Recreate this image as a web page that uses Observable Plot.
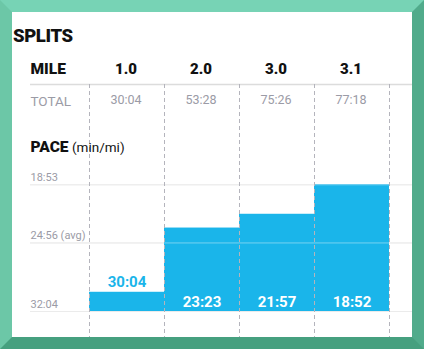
<!DOCTYPE html>
<html>
<head>
<meta charset="utf-8">
<script src="https://cdn.jsdelivr.net/npm/d3@7"></script>
<script src="https://cdn.jsdelivr.net/npm/@observablehq/plot@0.6"></script>
<style>
  html, body { margin: 0; padding: 0; background: #fff; }
  #frame {
    position: relative; width: 424px; height: 349px; box-sizing: border-box;
    border-style: solid; border-width: 12px;
    border-top-color: #77d3b5; border-left-color: #6cc7a7;
    border-right-color: #51ab8b; border-bottom-color: #46a07f;
    background: #fff; overflow: hidden;
  }
  #title {
    position: absolute; left: 1px; top: 15px; margin: 0;
    font: 900 18.5px/19px Roboto, sans-serif; letter-spacing: -0.4px;
    color: #111;
  }
  #chart { position: absolute; left: 0; top: 38px; }
</style>
</head>
<body>
<div id="frame">
  <div id="title">SPLITS</div>
  <div id="chart"></div>
</div>
<script>
const miles = ["1.0", "2.0", "3.0", "3.1"];
const totals = ["30:04", "53:28", "75:26", "77:18"];
const paces = ["30:04", "23:23", "21:57", "18:52"];
const tickValues = ["18:53", "24:56", "32:04"];
const tickLabels = ["18:53", "24:56 (avg)", "32:04"];

const sec = s => { const [m, x] = s.split(":").map(Number); return m * 60 + x; };
const rows = miles.map((m, i) => ({i, mile: m, total: totals[i], pace: paces[i], sec: sec(paces[i])}));
const ticks = tickValues.map((t, i) => ({value: sec(t), label: tickLabels[i]}));
const baseVal = sec("32:04");
const topVal = sec("18:53");

const W = 400, H = 287, mL = 77, mR = 23, mT = 134.3, mB = 26;
const heavy = "Roboto, sans-serif";
const blue = "#1ab5ea";
const gray = "#9b9ba6";
const inside = d => (baseVal - d.sec) > 200;

const chart = Plot.plot({
  width: W, height: H,
  marginLeft: mL, marginRight: mR, marginTop: mT, marginBottom: mB,
  style: {fontFamily: "Roboto, sans-serif", fontSize: "11px", background: "transparent", overflow: "visible"},
  x: {domain: [0, miles.length], axis: null},
  y: {domain: [baseVal, topVal], axis: null},
  marks: [
    Plot.ruleY([topVal], {dy: 34 - mT, insetLeft: -59, insetRight: -23, stroke: "#dcdcdc", strokeWidth: 1.5}),
    Plot.ruleY(ticks, {y: "value", insetLeft: -59, insetRight: -23, stroke: "#dedede", strokeWidth: 1}),
    Plot.rectY(rows, {x1: d => d.i, x2: d => d.i + 1, y1: baseVal, y2: "sec", fill: blue}),
    Plot.ruleY(ticks, {y: "value", insetLeft: -59, insetRight: -23, stroke: "#ffffff", strokeOpacity: 0.4, strokeWidth: 1}),
    Plot.ruleX(d3.range(miles.length + 1), {insetTop: -(mT - 34), insetBottom: -mB, stroke: "#b4b4bc", strokeDasharray: "4,3", strokeWidth: 1}),
    Plot.text(ticks, {y: "value", text: "label", frameAnchor: "left", textAnchor: "start", lineAnchor: "bottom", dx: -59, dy: -4, fill: gray, fontSize: 11}),
    Plot.text(["MILE"], {frameAnchor: "top-left", textAnchor: "start", lineAnchor: "bottom", dx: -59, dy: 23.8 - mT, fontFamily: heavy, fontWeight: 900, fontSize: 15.5, fill: "#111"}),
    Plot.text(rows, {x: d => d.i + 0.5, text: "mile", frameAnchor: "top", lineAnchor: "bottom", dy: 23.8 - mT, dx: -1, fontFamily: heavy, fontWeight: 900, fontSize: 15, fill: "#111"}),
    Plot.text(["TOTAL"], {frameAnchor: "top-left", textAnchor: "start", lineAnchor: "bottom", dx: -59, dy: 105 - 50 - mT, fontSize: 13.5, fill: gray}),
    Plot.text(rows, {x: d => d.i + 0.5, text: "total", frameAnchor: "top", lineAnchor: "bottom", dy: 103.8 - 50 - mT, dx: -1, fontSize: 12.5, fill: gray}),
    Plot.text(["PACE"], {frameAnchor: "top-left", textAnchor: "start", lineAnchor: "bottom", dx: -59, dy: 151.8 - 50 - mT, fontFamily: heavy, fontWeight: 900, fontSize: 15.5, fill: "#111"}),
    Plot.text(["(min/mi)"], {frameAnchor: "top-left", textAnchor: "start", lineAnchor: "bottom", dx: -17.5, dy: 151.8 - 50 - mT, fontSize: 13.5, fill: "#111"}),
    Plot.text(rows.filter(d => !inside(d)), {x: d => d.i + 0.5, y: "sec", text: "pace", lineAnchor: "bottom", dy: -5, fill: blue, fontWeight: "bold", fontSize: 15}),
    Plot.text(rows.filter(inside), {x: d => d.i + 0.5, y: baseVal, text: "pace", lineAnchor: "bottom", dy: -5, fill: "#fff", fontWeight: "bold", fontSize: 15})
  ]
});
document.getElementById("chart").appendChild(chart);
</script>
</body>
</html>
